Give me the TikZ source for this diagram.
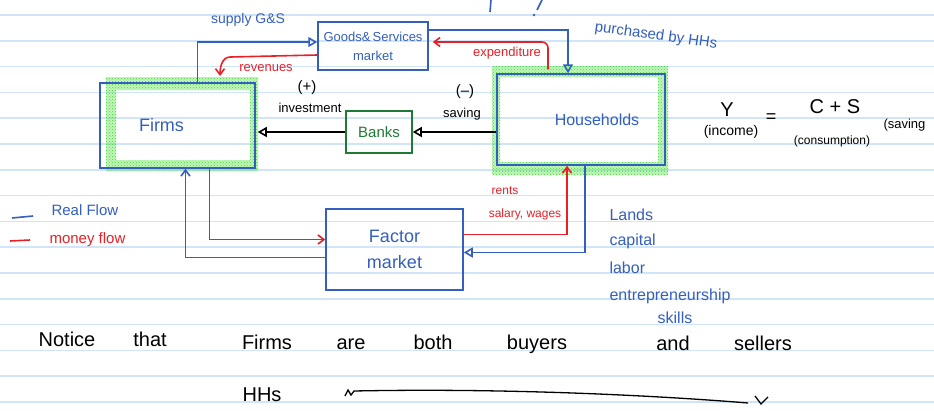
\documentclass[tikz,border=0pt]{standalone}
\usepackage{fontspec}
\setmainfont{Liberation Sans}
\usetikzlibrary{arrows.meta,patterns}
\definecolor{hwblue}{RGB}{52,95,190}
\definecolor{hwred}{RGB}{232,32,40}
\definecolor{hwgreen}{RGB}{30,122,52}
\definecolor{ruleblue}{RGB}{208,230,248}
\definecolor{hlgreen}{RGB}{60,225,40}
\newcommand{\fs}[2]{\fontsize{#1}{#2}\selectfont}

\begin{document}
\begin{tikzpicture}[x=1pt,y=-1pt,
  box/.style={draw=hwblue, line width=1.5pt, text=hwblue, align=center, inner sep=0pt},
  realflow/.style={draw=hwblue, line width=1.6pt},
  moneyflow/.style={draw=hwred, line width=1.6pt},
  bankflow/.style={draw=black, line width=1.6pt},
  opentip/.style={-{Triangle[open,length=9pt,width=10pt]}},
  sticktip/.style={-{Straight Barb[length=6pt,width=9pt]}},
  hilite/.style={pattern=crosshatch dots, pattern color=hlgreen, even odd rule},
  hand/.style={inner sep=0pt, font=\fs{20}{24}, anchor=base},
  ]
\clip (0,0) rectangle (934,410);
\fill[white] (0,0) rectangle (934,410);
\foreach \k in {0,...,15} \draw[ruleblue, line width=1.5pt] (0,15+25.8*\k) -- (934,15+25.8*\k);
\fill[hlgreen, opacity=0.3, even odd rule] (106,77) rectangle (258,171) (116,90) rectangle (250,160);
\fill[hlgreen, opacity=0.3, even odd rule] (492,66) rectangle (668,175) (500,77) rectangle (658,162);
\fill[hilite] (106,77) rectangle (258,171) (116,90) rectangle (250,160);
\fill[hilite] (492,66) rectangle (668,175) (500,77) rectangle (658,162);

\draw[realflow] (491,0) -- (490,12);
\draw[realflow] (542,0) -- (537,10);
\fill[hwblue] (534,15) circle (1.3);

\node[box, minimum width=110pt, minimum height=48pt, font=\fs{13}{19}] (gs) at (373,46) {Goods\&\,Services\\market};
\node[box, minimum width=155pt, minimum height=85pt, font=\fs{18}{22}] (firms) at (177.5,125.5) {Firms\hspace*{32pt}};
\node[box, minimum width=168pt, minimum height=91pt, font=\fs{16}{20}] (hh) at (581,119.5) {\hspace*{32pt}Households};
\node[box, draw=hwgreen, text=hwgreen, minimum width=66pt, minimum height=42pt, font=\fs{15}{18}] (banks) at (379,132) {Banks};
\node[box, minimum width=137pt, minimum height=81pt, font=\fs{18}{26}] (factor) at (394.5,249.5) {Factor\\market};

\draw[realflow, opentip] ([xshift=20pt]firms.north) |- ([yshift=4pt]gs.west);
\coordinate (revend) at (220,76);
\draw[moneyflow, sticktip] ([yshift=-9pt]gs.west) -- ++(-87,2) to[out=180,in=90] (revend);
\draw[realflow, opentip] ([yshift=16pt]gs.east) -| ([xshift=-13pt]hh.north);
\draw[moneyflow, sticktip, rounded corners=6pt] ([xshift=-33pt,yshift=4pt]hh.north) |- ([xshift=4pt,yshift=4pt]gs.east);
\draw[bankflow, opentip] (hh.west |- banks.east) -- (banks.east);
\draw[bankflow, opentip, shorten >=2pt] (banks.west) -- (banks.west -| firms.east);
\draw[realflow, sticktip] ([yshift=-8pt]factor.west) -| ([xshift=8pt]firms.south);
\draw[moneyflow, sticktip] ([xshift=32pt]firms.south) |- ([yshift=10pt]factor.west);
\draw[moneyflow, sticktip] ([yshift=15pt]factor.east) -| ([xshift=-14pt]hh.south);
\draw[realflow, opentip] ([xshift=4pt]hh.south) |- ([yshift=-3pt]factor.east);

\node[text=hwblue, font=\fs{14}{17}] (supplylbl) at (248,20) {supply G\&S};
\node[text=hwred, font=\fs{13}{16}] (revlbl) at (266,68) {revenues};
\node[text=hwblue, font=\fs{15}{18}, rotate=-8] (purchlbl) at (656,36) {purchased by HHs};
\node[text=hwred, font=\fs{13}{16}] (explbl) at (507,53) {expenditure};
\node[font=\fs{15}{18}] (pluslbl) at (307,88) {(+)};
\node[font=\fs{13}{16}] (invlbl) at (310,108) {investment};
\node[font=\fs{15}{18}] (minuslbl) at (465,92) {(--)};
\node[font=\fs{13}{16}] (savlbl) at (462,114) {saving};
\node[text=hwred, font=\fs{12}{14}] (rentslbl) at (505,191) {rents};
\node[text=hwred, font=\fs{12}{14}] (wageslbl) at (525,214) {salary, wages};

\foreach \t/\y [count=\i] in {Lands/215, capital/241, labor/268, entrepreneurship/296}
  \node[text=hwblue, font=\fs{16}{19}, anchor=west] (fac\i) at (606,\y) {\t};
\node[text=hwblue, font=\fs{16}{19}] (fac5) at (675,318) {skills};

\draw[realflow] (12,218) -- (33,216);
\draw[moneyflow] (10,241) -- (30,240);
\node[text=hwblue, font=\fs{15}{18}, anchor=west] (reallbl) at (48,210) {Real Flow};
\node[text=hwred, font=\fs{15}{18}, anchor=west] (moneylbl) at (46,240) {money flow};

\node[font=\fs{20}{24}] (ylbl) at (727,110) {Y};
\node[font=\fs{14}{17}] (inclbl) at (731,132) {(income)};
\node[font=\fs{18}{22}] (eqlbl) at (771,118) {=};
\node[font=\fs{20}{24}] (cslbl) at (835,107) {C + S};
\node[font=\fs{12}{14}] (conslbl) at (832,141) {(consumption)};
\node[font=\fs{13}{16}, anchor=west] (savinglbl) at (880,125) {(saving};

\foreach \w/\x/\y [count=\i] in {Notice/67/346, that/150/346, Firms/267/349, are/351/349, both/433/349, buyers/537/349, and/673/350, sellers/763/350, HHs/262/401}
  \node[hand] (word\i) at (\x,\y) {\w};
\draw[line width=1.3pt] (345,396) -- (348,390) -- (351,395) -- (354,391) .. controls (500,388) and (650,395) .. (748,403);
\draw[line width=1.3pt] (755,396) -- (761,404) -- (768,397);
\end{tikzpicture}
\end{document}
